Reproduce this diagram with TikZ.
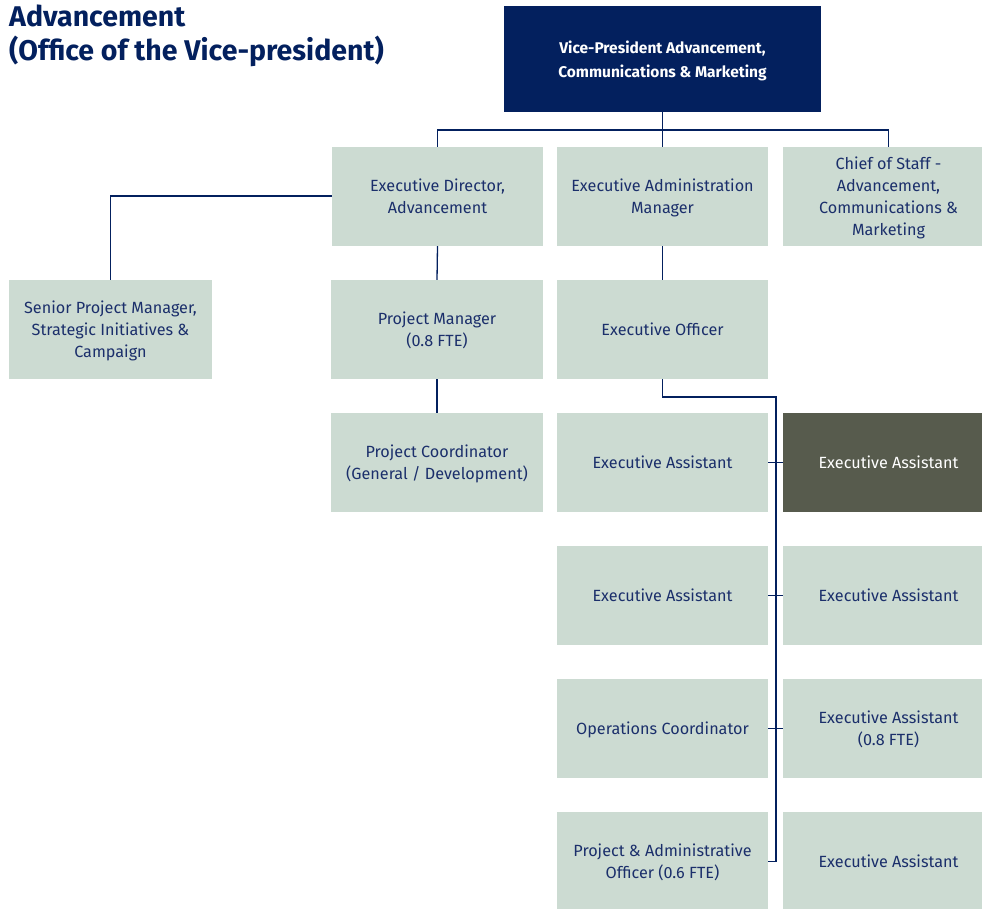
\documentclass[tikz,border=0pt]{standalone}
\usepackage{fontspec}
\setmainfont{Fira Sans}
\definecolor{navy}{HTML}{03205E}
\definecolor{boxfill}{HTML}{CCDBD2}
\definecolor{txt}{HTML}{1B2F6B}
\definecolor{dark}{HTML}{575B4D}
\begin{document}
\begin{tikzpicture}[x=1pt,y=-1pt,
  box/.style={fill=boxfill, text=txt, inner sep=0pt, align=center,
    font=\fontsize{16.2}{22}\selectfont, text depth=0pt},
  conn/.style={draw=navy, line width=1.3pt}]
\useasboundingbox (0,0) rectangle (982,908);
% title
\node[anchor=north west, inner sep=0pt, text=navy, align=left,
  font=\fontsize{28.5}{34}\bfseries\selectfont] (title) at (9,5)
  {Advancement\\(Office of the Vice-president)};
% boxes: given by corners
\newcommand{\orgbox}[6][]{%
  \node[box, minimum width=#4-#2, minimum height=#5-#3, #1] (#6) at ({(#2+#4)/2},{(#3+#5)/2})}
\orgbox[fill=navy,text=white,font=\fontsize{15.5}{24}\bfseries\selectfont]{504}{6}{821}{112}{vp} {Vice-President Advancement,\\Communications \& Marketing};
\orgbox{332}{147}{543}{246}{ed} {Executive Director,\\Advancement};
\orgbox{557}{147}{768}{246}{eam} {Executive Administration\\Manager};
\orgbox{783}{147}{994}{246}{cos} {Chief of Staff -\\Advancement,\\Communications \&\\Marketing};
\orgbox{9}{280}{212}{379}{spm} {Senior Project Manager,\\Strategic Initiatives \&\\Campaign};
\orgbox{331}{280}{543}{379}{pm} {Project Manager\\(0.8 FTE)};
\orgbox{557}{280}{768}{379}{eo} {Executive Officer};
\orgbox{331}{413}{543}{512}{pc} {Project Coordinator\\(General / Development)};
\orgbox{557}{413}{768}{512}{ea1} {Executive Assistant};
\orgbox[fill=dark,text=white]{783}{413}{994}{512}{ea2} {Executive Assistant};
\orgbox{557}{546}{768}{645}{ea3} {Executive Assistant};
\orgbox{783}{546}{994}{645}{ea4} {Executive Assistant};
\orgbox{557}{679}{768}{778}{oc} {Operations Coordinator};
\orgbox{783}{679}{994}{778}{ea5} {Executive Assistant\\(0.8 FTE)};
\orgbox{557}{812}{768}{911}{pao} {Project \& Administrative\\Officer (0.6 FTE)};
\orgbox{783}{812}{994}{911}{ea6} {Executive Assistant};
% connectors
\coordinate (bar) at (663,130);
\coordinate (spine) at (776,397);
\draw[conn] (vp.south) -- (eam.north);
\draw[conn] (ed.north) |- (bar) -| (cos.north);
\draw[conn] (ed.west |- 0,196) -| (spm.north);
\draw[conn] (ed.south) -- (pm.north);
\draw[conn] (pm.south) -- (pc.north);
\draw[conn] (eam.south) -- (eo.north);
\draw[conn] (eo.south) |- (spine) -- (spine |- pao.east);
\draw[conn] (ea1.east) -- (ea2.west);
\draw[conn] (ea3.east) -- (ea4.west);
\draw[conn] (oc.east) -- (ea5.west);
\draw[conn] (pao.east) -- (spine |- pao.east);
\end{tikzpicture}
\end{document}
